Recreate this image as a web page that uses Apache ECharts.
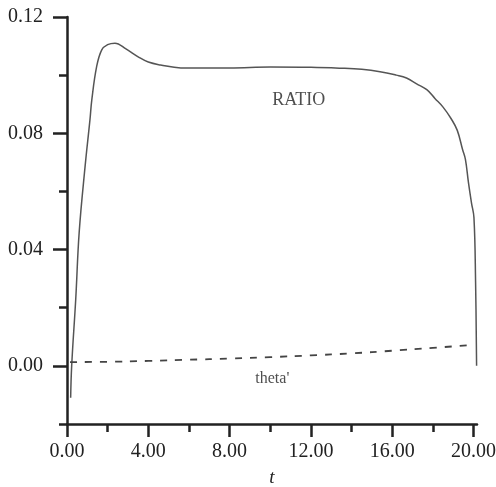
<!DOCTYPE html>
<html>
<head>
<meta charset="utf-8">
<script src="https://cdn.jsdelivr.net/npm/echarts@6/dist/echarts.min.js"></script>
<style>
  html, body { margin: 0; padding: 0; background: #fff; }
  #myChart { width: 496px; height: 487px; }
</style>
</head>
<body>
<div id="myChart"></div>
<script>
// RATIO 曲线 (t, 值)
const ratioT = [0.18, 0.23, 0.43, 0.6, 0.89, 1.13, 1.22, 1.46, 1.71, 2.0, 2.36, 2.9, 3.5, 4.0, 4.6, 5.6, 8.0, 10.0, 12.0, 13.4, 14.5, 15.4, 16.2, 16.7, 17.2, 17.7, 18.1, 18.5, 18.9, 19.2, 19.46, 19.6, 19.75, 19.9, 20.02, 20.1, 20.15];
const ratioV = [-0.011, 0.0, 0.023, 0.046, 0.0686, 0.0847, 0.0915, 0.103, 0.1087, 0.1105, 0.111, 0.109, 0.1063, 0.1045, 0.1035, 0.1025, 0.1025, 0.1028, 0.1027, 0.1024, 0.102, 0.1012, 0.1, 0.099, 0.097, 0.095, 0.092, 0.089, 0.085, 0.081, 0.0744, 0.071, 0.063, 0.056, 0.051, 0.029, 0.0];

// theta' 虚线
const thetaT = [0.15, 2, 4, 6, 8, 10, 12, 14, 16, 18, 20];
const thetaV = [0.0013, 0.0014, 0.0017, 0.0021, 0.0025, 0.003, 0.0036, 0.0043, 0.0052, 0.0062, 0.0072];

// 刻度
const xMajorTicks = [0, 4, 8, 12, 16, 20];
const xMinorTicks = [2, 6, 10, 14, 18];
const yMajorTicks = [0, 0.04, 0.08, 0.12];
const yMinorTicks = [-0.02, 0.02, 0.06, 0.1];

// 曲线标注
const notes = [
  { text: 'RATIO', t: 11.4, v: 0.0915, size: 18 },
  { text: "theta'", t: 10.1, v: -0.0045, size: 16 }
];

const pair = (xs, ys) => xs.map((x, i) => [x, ys[i]]);
const font = '"Liberation Serif", "DejaVu Serif", serif';
const ink = { color: '#222', width: 2.5 };

const option = {
  animation: false,
  backgroundColor: '#fff',
  grid: { left: 67, right: 19, top: 17, bottom: 63, containLabel: false, outerBoundsMode: 'none' },
  xAxis: [
    {
      type: 'value',
      min: 0,
      max: 20.17,
      interval: 4,
      name: 't',
      nameLocation: 'middle',
      nameGap: 44,
      nameTextStyle: { fontFamily: font, fontStyle: 'italic', fontSize: 19, color: '#222' },
      axisLine: { onZero: false, lineStyle: ink },
      axisTick: { length: 13, customValues: xMajorTicks, lineStyle: ink },
      axisLabel: {
        margin: 18,
        customValues: xMajorTicks,
        fontFamily: font, fontSize: 20, color: '#222',
        formatter: v => v.toFixed(2)
      },
      splitLine: { show: false }
    },
    {
      type: 'value',
      position: 'bottom',
      min: 0,
      max: 20.17,
      interval: 4,
      axisLine: { show: false, onZero: false },
      axisTick: { show: true, length: 8, customValues: xMinorTicks, lineStyle: ink },
      axisLabel: { show: false },
      splitLine: { show: false }
    }
  ],
  yAxis: [
    {
      type: 'value',
      min: -0.02,
      max: 0.12,
      interval: 0.02,
      axisLine: { show: true, onZero: false, lineStyle: ink },
      axisTick: { show: true, length: 14, customValues: yMajorTicks, lineStyle: ink },
      axisLabel: {
        margin: 24,
        customValues: yMajorTicks,
        fontFamily: font, fontSize: 20, color: '#222',
        formatter: v => v.toFixed(2)
      },
      splitLine: { show: false }
    },
    {
      type: 'value',
      position: 'left',
      min: -0.02,
      max: 0.12,
      interval: 0.02,
      axisLine: { show: false, onZero: false },
      axisTick: { show: true, length: 8, customValues: yMinorTicks, lineStyle: ink },
      axisLabel: { show: false },
      splitLine: { show: false }
    }
  ],
  series: [
    {
      name: 'RATIO',
      type: 'line',
      data: pair(ratioT, ratioV),
      smooth: 0.4,
      showSymbol: false,
      lineStyle: { color: '#555', width: 1.5 }
    },
    {
      name: "theta'",
      type: 'line',
      data: pair(thetaT, thetaV),
      smooth: true,
      showSymbol: false,
      lineStyle: { color: '#444', width: 1.8, type: [7, 8] }
    },
    {
      name: 'notes',
      type: 'scatter',
      symbolSize: 0,
      data: notes.map(n => ({
        value: [n.t, n.v],
        label: {
          show: true,
          position: 'inside',
          formatter: n.text,
          fontFamily: font,
          fontSize: n.size,
          color: '#222'
        }
      })),
      silent: true
    }
  ]
};

const myChart = echarts.init(document.getElementById('myChart'));
myChart.setOption(option, true);
</script>
</body>
</html>
